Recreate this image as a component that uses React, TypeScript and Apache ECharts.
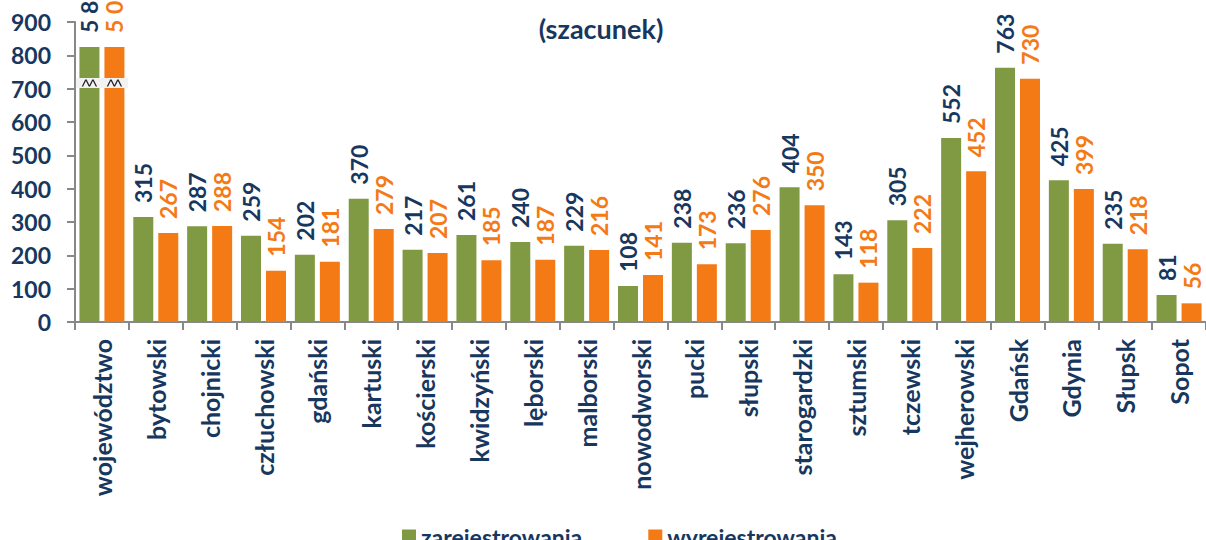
import React, { useEffect, useRef } from "react";
import * as echarts from "echarts";

const categories = [
  "województwo", "bytowski", "chojnicki", "człuchowski", "gdański", "kartuski",
  "kościerski", "kwidzyński", "lęborski", "malborski", "nowodworski", "pucki",
  "słupski", "starogardzki", "sztumski", "tczewski", "wejherowski", "Gdańsk",
  "Gdynia", "Słupsk", "Sopot",
];
const registered = [5870, 315, 287, 259, 202, 370, 217, 261, 240, 229, 108, 238, 236, 404, 143, 305, 552, 763, 425, 235, 81];
const deregistered = [5099, 267, 288, 154, 181, 279, 207, 185, 187, 216, 141, 173, 276, 350, 118, 222, 452, 730, 399, 218, 56];
const seriesNames = ["zarejestrowania", "wyrejestrowania"];
const titleText = "(szacunek)";
const AXIS_MAX = 900;
const AXIS_STEP = 100;
const BREAK_TOP = 825; // displayed height of bars that exceed the scale
const BREAK_MARK = 717; // where the break marker sits

const NAVY = "#17375E";
const GREEN = "#809A44";
const ORANGE = "#F47A16";
const FONT = "Lato";

const fmt = (v: number) => (v >= 1000 ? `${Math.floor(v / 1000)} ${String(v % 1000).padStart(3, "0")}` : String(v));

function breakMarks() {
  return {
    symbolKeepAspect: false,
    label: { show: false },
    silent: true,
    data: [
      { coord: [categories[0], BREAK_MARK], symbol: "rect", symbolSize: [27, 10], itemStyle: { color: "#F2F2F2" } },
      {
        coord: [categories[0], BREAK_MARK],
        symbol: "path://M0 10 L4 0 L8 10 L12 0 L16 10",
        symbolSize: [14, 7],
        itemStyle: { color: "none", borderColor: "#222", borderWidth: 1 },
      },
    ],
  };
}

export default function App() {
  const ref = useRef<HTMLDivElement>(null);
  useEffect(() => {
    if (!ref.current) return;
    const chart = echarts.init(ref.current, null, { renderer: "svg" });
    const mk = (name: string, values: number[], color: string, labelColor: string) => ({
      name,
      type: "bar",
      barWidth: 20,
      barGap: "25%",
      itemStyle: { color },
      data: values.map((v) => Math.min(v, BREAK_TOP)),
      label: {
        show: true,
        position: "top",
        rotate: 90,
        align: "left",
        verticalAlign: "middle",
        distance: 14,
        fontFamily: FONT,
        fontWeight: "bold",
        fontSize: 23,
        color: labelColor,
        formatter: (p: any) => fmt(values[p.dataIndex]),
      },
      markPoint: breakMarks(),
    });
    chart.setOption({
      animation: false,
      backgroundColor: "#fff",
      title: {
        text: titleText,
        left: 596,
        top: 10,
        textAlign: "center",
        textStyle: { fontFamily: FONT, fontWeight: "bold", fontSize: 27, color: NAVY },
      },
      legend: {
        data: seriesNames,
        left: 397,
        top: 520,
        itemGap: 66,
        itemWidth: 14,
        itemHeight: 14,
        icon: "rect",
        textStyle: { fontFamily: FONT, fontWeight: "bold", fontSize: 23, color: NAVY },
      },
      grid: { left: 75, top: 22, width: 1136, bottom: 218 },
      xAxis: {
        type: "category",
        data: categories,
        axisLine: { lineStyle: { color: "#888", width: 2 } },
        axisTick: { show: true, length: 8, lineStyle: { color: "#888", width: 2 } },
        axisLabel: {
          rotate: 90,
          interval: 0,
          margin: 17,
          fontFamily: FONT,
          fontWeight: "bold",
          fontSize: 25,
          color: NAVY,
        },
      },
      yAxis: {
        type: "value",
        min: 0,
        max: AXIS_MAX,
        interval: AXIS_STEP,
        splitLine: { show: false },
        axisLine: { show: true, lineStyle: { color: "#888", width: 2 } },
        axisTick: { show: true, length: 8, lineStyle: { color: "#888", width: 2 } },
        axisLabel: { margin: 24, fontFamily: FONT, fontWeight: "bold", fontSize: 23, color: NAVY },
      },
      series: [mk(seriesNames[0], registered, GREEN, NAVY), mk(seriesNames[1], deregistered, ORANGE, ORANGE)],
    });
    return () => chart.dispose();
  }, []);
  return <div ref={ref} style={{ position: "fixed", left: 0, top: 0, width: 1206, height: 540 }} />;
}
